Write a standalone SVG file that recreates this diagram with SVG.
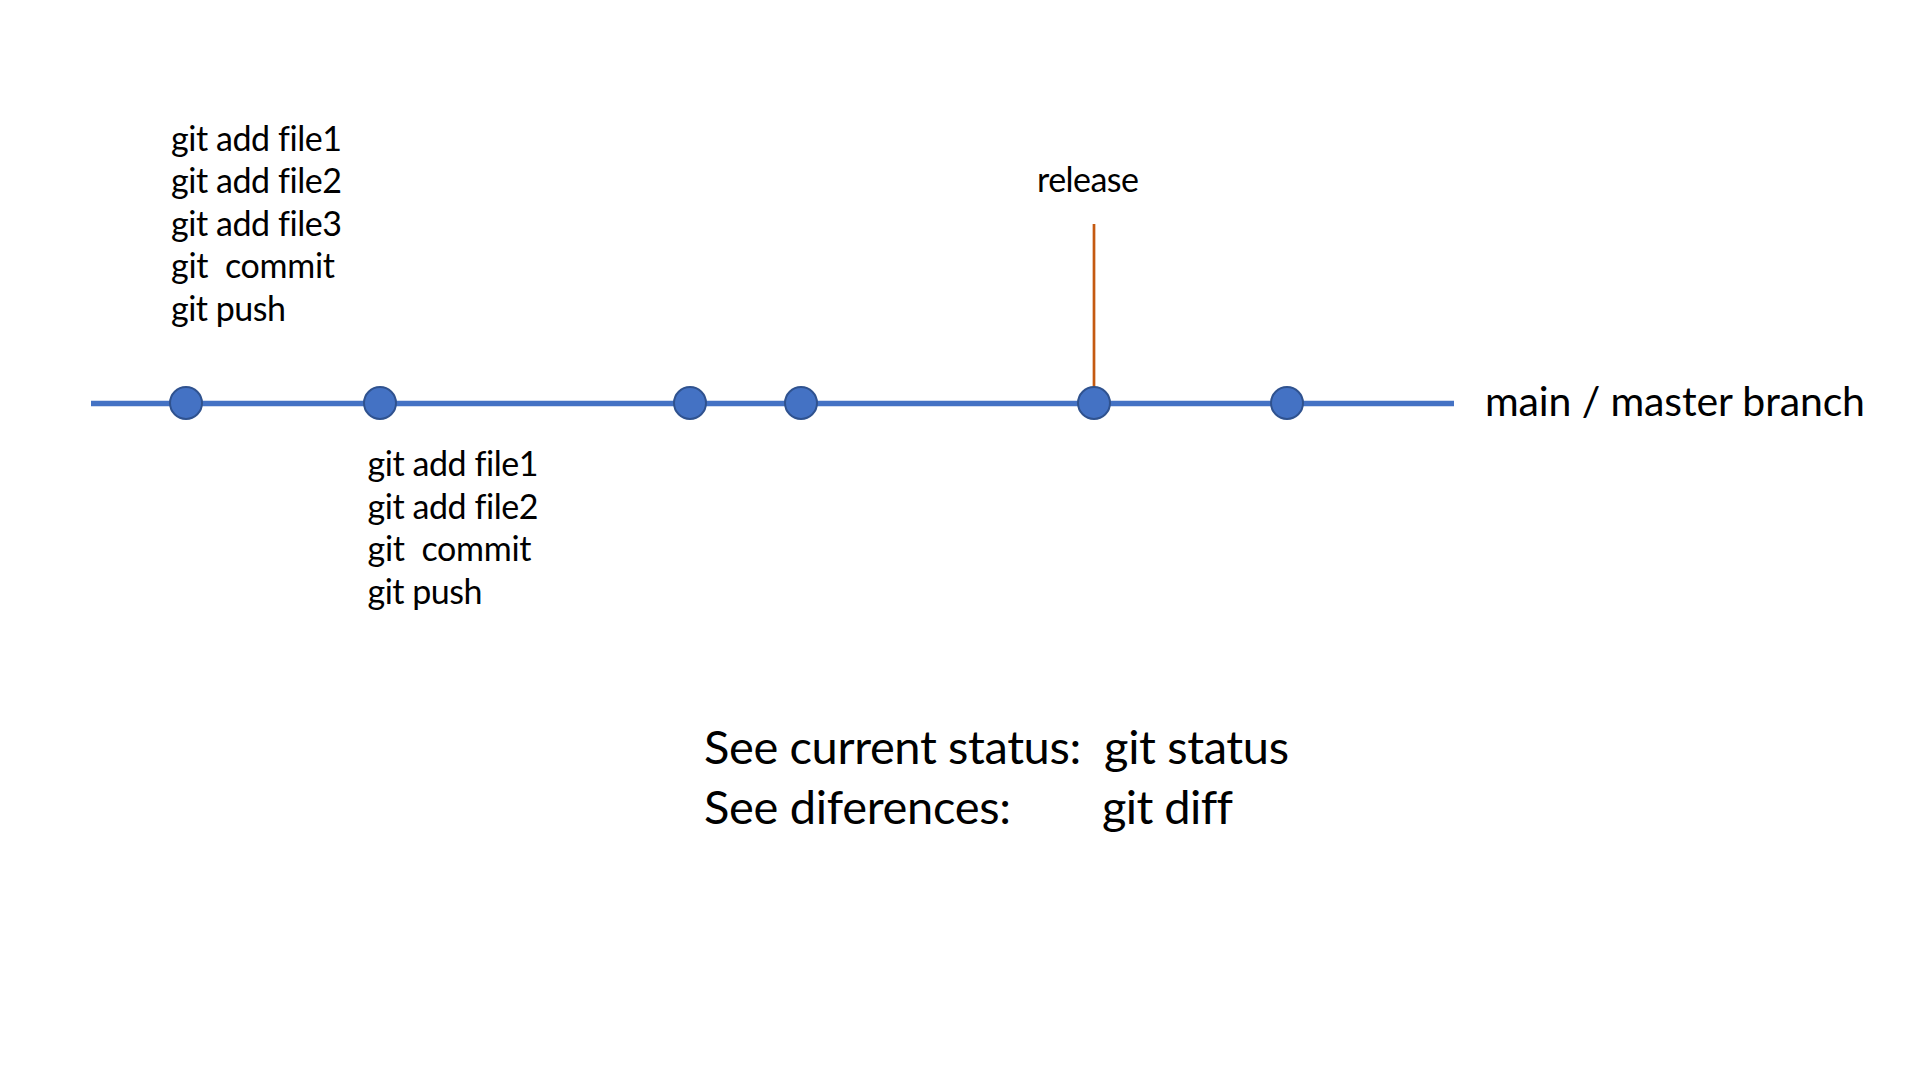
<svg xmlns="http://www.w3.org/2000/svg" width="1920" height="1080" viewBox="0 0 1920 1080">
<style>
  .t { font-family: Lato, "Liberation Sans", sans-serif; fill: #000; font-variant-ligatures: none; font-feature-settings: "liga" 0; }
  .s { font-size: 34px; }
  .m { font-size: 41px; }
  .b { font-size: 47px; }
  .commit { fill: #4472C4; stroke: #2F528F; stroke-width: 2; }
  .branch { stroke: #4472C4; stroke-width: 5.5; fill: none; }
  .rel { stroke: #C55A11; stroke-width: 2.7; fill: none; }
</style>
<rect width="1920" height="1080" fill="#fff"/>
<g id="connectors">
  <line class="branch" x1="91" y1="403.5" x2="1454" y2="403.5"/>
  <line class="rel" x1="1094" y1="224" x2="1094" y2="388"/>
</g>
<g id="commit1"><circle class="commit" cx="186" cy="403" r="16"/></g>
<g id="commit2"><circle class="commit" cx="380" cy="403" r="16"/></g>
<g id="commit3"><circle class="commit" cx="690" cy="403" r="16"/></g>
<g id="commit4"><circle class="commit" cx="801" cy="403" r="16"/></g>
<g id="commit5"><circle class="commit" cx="1094" cy="403" r="16"/></g>
<g id="commit6"><circle class="commit" cx="1287" cy="403" r="16"/></g>
<g id="label-top" class="t s">
  <text x="171" y="150.5" textLength="171">git add file1</text>
  <text x="171" y="193" textLength="171">git add file2</text>
  <text x="171" y="235.7" textLength="171">git add file3</text>
  <text x="171" y="278.3" textLength="164" xml:space="preserve">git  commit</text>
  <text x="171" y="321" textLength="115">git push</text>
</g>
<g id="label-bottom" class="t s">
  <text x="367.5" y="476" textLength="171">git add file1</text>
  <text x="367.5" y="518.5" textLength="171">git add file2</text>
  <text x="367.5" y="561.2" textLength="164" xml:space="preserve">git  commit</text>
  <text x="367.5" y="604" textLength="115">git push</text>
</g>
<g id="release-label" class="t s">
  <text x="1037" y="191.7" textLength="102">release</text>
</g>
<g id="branch-label" class="t m">
  <text x="1485" y="416" textLength="380">main / master branch</text>
</g>
<g id="help" class="t b">
  <text x="704" y="764" textLength="585" xml:space="preserve">See current status:  git status</text>
  <text x="704" y="824" textLength="307">See diferences:</text>
  <text x="1102" y="824" textLength="131">git diff</text>
</g>
</svg>
